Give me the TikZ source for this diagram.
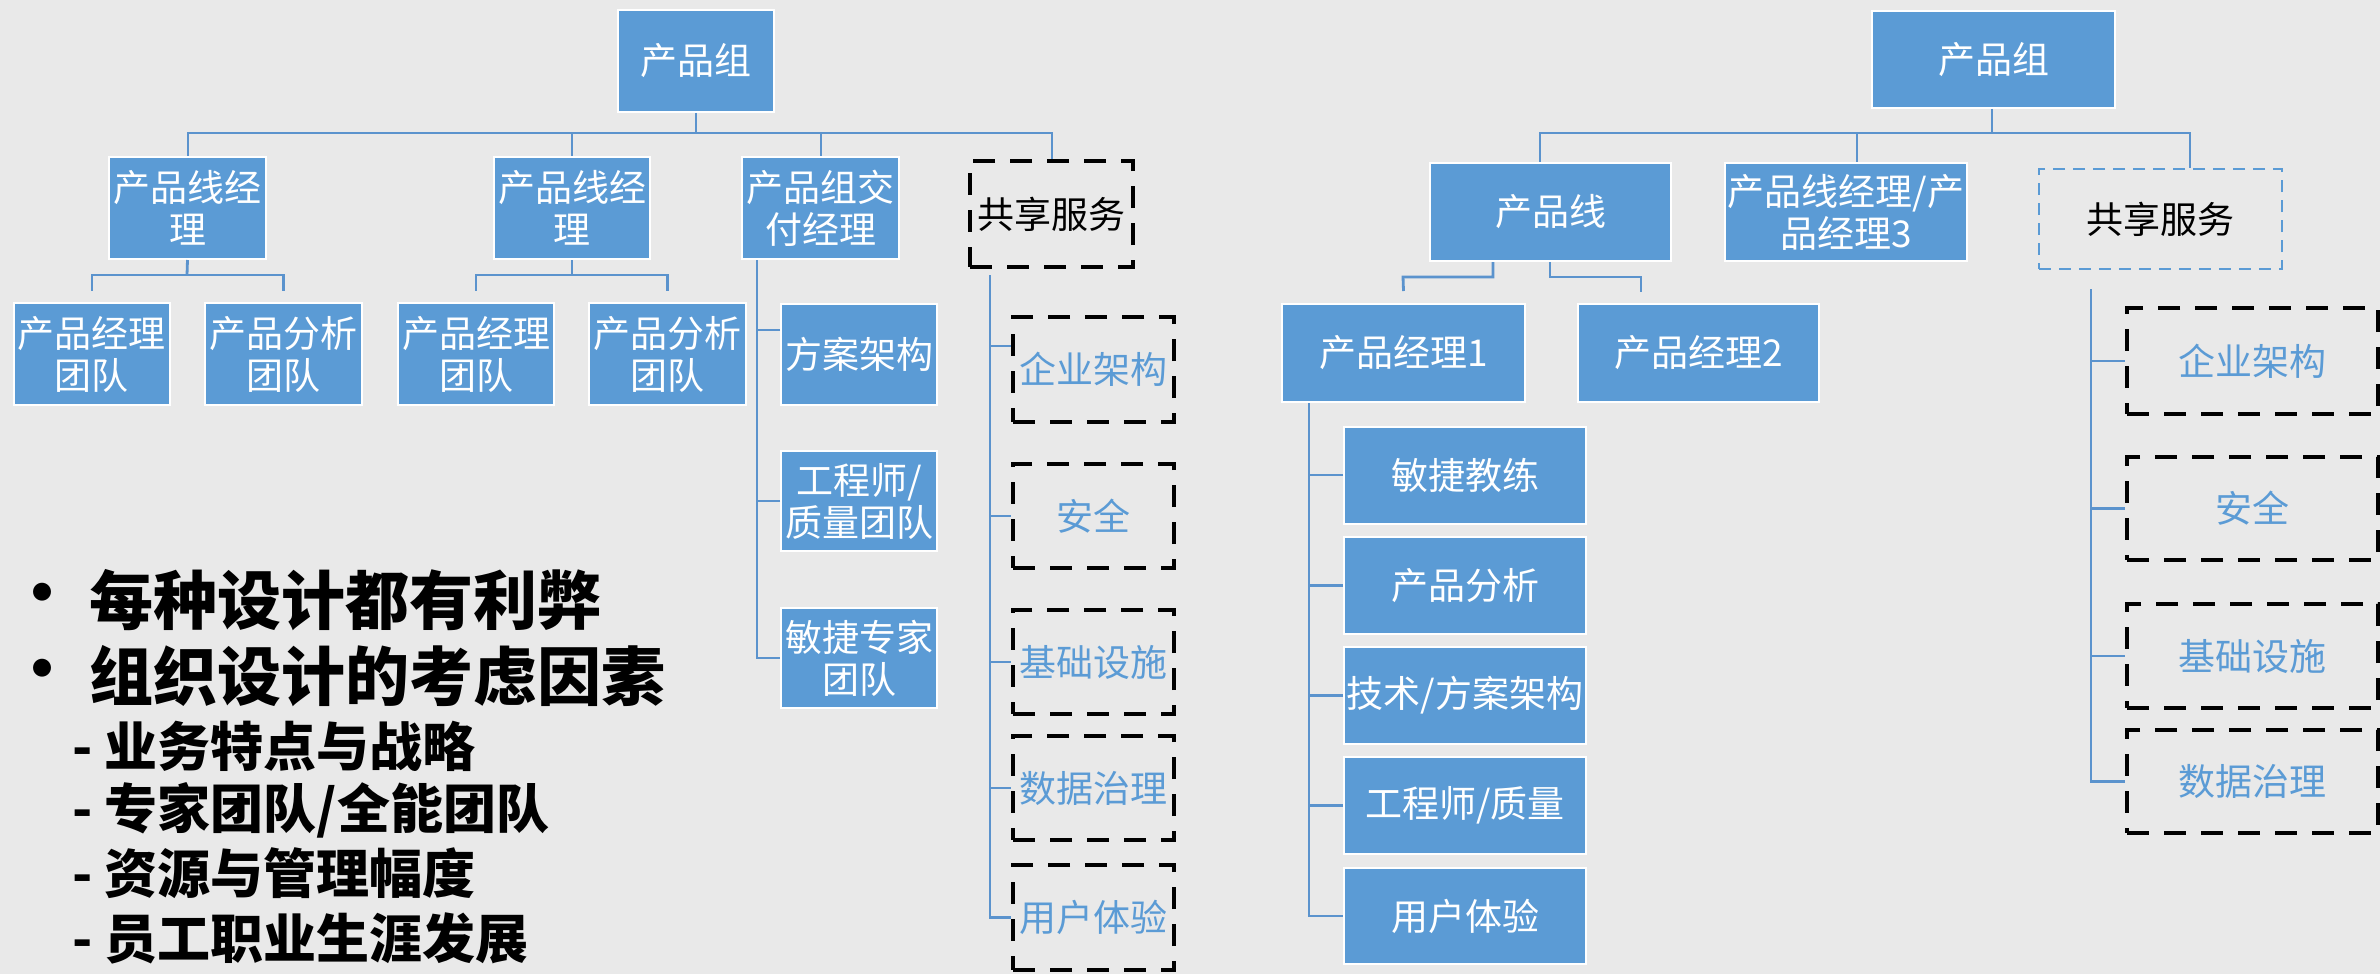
\documentclass[tikz,border=0pt]{standalone}
\usepackage{fontspec}
\setmainfont{Noto Sans CJK SC}
\newfontfamily\cjk{Noto Sans CJK SC}
\newfontfamily\cjkheavy{Noto Sans CJK SC Black}
\usetikzlibrary{calc}
\definecolor{boxblue}{HTML}{5B9BD5}
\definecolor{linkblue}{HTML}{5B93CD}
\definecolor{paper}{HTML}{E9E9E9}
\tikzset{
  bluebox/.style={rectangle, fill=boxblue, draw=white, line width=1pt, text=white, inner sep=0pt, align=center, font=\cjk\fontsize{18.5}{21}\selectfont},
  dashbox/.style={rectangle, draw=black, line width=2.3pt, dash pattern=on 11pt off 7.5pt, inner sep=0pt, align=center, font=\cjk\fontsize{18.5}{21}\selectfont},
  bluedash/.style={rectangle, draw=boxblue, line width=1pt, dash pattern=on 6pt off 4pt, inner sep=0pt, align=center, font=\cjk\fontsize{18.5}{21}\selectfont},
  link/.style={draw=linkblue, line width=1.4pt},
  toplink/.style={draw=linkblue, line width=1pt},
  bigbullet/.style={anchor=west, inner sep=0pt, font=\cjkheavy\fontsize{32}{36}\selectfont},
  smallbullet/.style={anchor=west, inner sep=0pt, font=\cjkheavy\fontsize{26.5}{30}\selectfont},
}
\begin{document}
\begin{tikzpicture}[x=0.5pt,y=-0.5pt]
\useasboundingbox (0,0) rectangle (2380,974);
\fill[paper] (0,0) rectangle (2380,974);

% ---------------- Left diagram ----------------
\node[bluebox, minimum width=78pt, minimum height=51pt] (L0) at (696,61) {产品组};
\node[bluebox, minimum width=78.5pt, minimum height=51pt] (L1a) at (187.5,208) {产品线经\\理};
\node[bluebox, minimum width=78pt, minimum height=51pt] (L1b) at (572,208) {产品线经\\理};
\node[bluebox, minimum width=78.5pt, minimum height=51pt] (L1c) at (820.5,208) {产品组交\\付经理};
\node[dashbox, minimum width=81.5pt, minimum height=53pt] (L1d) at (1051.5,214) {共享服务};

\node[bluebox, minimum width=78pt, minimum height=51pt] (a1) at (92,354) {产品经理\\团队};
\node[bluebox, minimum width=78.5pt, minimum height=51pt] (a2) at (283.5,354) {产品分析\\团队};
\node[bluebox, minimum width=78pt, minimum height=51pt] (b1) at (476,354) {产品经理\\团队};
\node[bluebox, minimum width=78.5pt, minimum height=51pt] (b2) at (667.5,354) {产品分析\\团队};

\node[bluebox, minimum width=78pt, minimum height=50.5pt] (c1) at (859,354.5) {方案架构};
\node[bluebox, minimum width=78pt, minimum height=50pt] (c2) at (859,501) {工程师/\\质量团队};
\node[bluebox, minimum width=78pt, minimum height=50pt] (c3) at (859,658) {敏捷专家\\团队};

\node[dashbox, text=boxblue, minimum width=80.5pt, minimum height=52.5pt] (s1) at (1093.5,369.5) {企业架构};
\node[dashbox, text=boxblue, minimum width=80.5pt, minimum height=52pt] (s2) at (1093.5,516) {安全};
\node[dashbox, text=boxblue, minimum width=80.5pt, minimum height=52pt] (s3) at (1093.5,662) {基础设施};
\node[dashbox, text=boxblue, minimum width=80.5pt, minimum height=52pt] (s4) at (1093.5,788) {数据治理};
\node[dashbox, text=boxblue, minimum width=80.5pt, minimum height=52.5pt] (s5) at (1093.5,917.5) {用户体验};

\coordinate (lbus) at (696,133);
\draw[toplink] (L0.south) -- (lbus);
\draw[toplink] (lbus) -| (L1a.north);
\draw[toplink] (lbus) -| (L1b.north);
\draw[toplink] (lbus) -| (L1c.north);
\draw[toplink] (lbus) -| (L1d.north);

\coordinate (ga) at (187,275);
\draw[link] (L1a.south) -- (ga);
\draw[link] (ga) -| ($(a1.north)+(0,-11)$);
\draw[link] (ga) -| ($(a2.north)+(0,-11)$);
\coordinate (gb) at (572,275);
\draw[link] (L1b.south) -- (gb);
\draw[link] (gb) -| ($(b1.north)+(0,-11)$);
\draw[link] (gb) -| ($(b2.north)+(0,-11)$);

\coordinate (dtop) at (L1c.south -| 757,0);
\draw[link] (dtop) |- (c3.west);
\draw[link] (c1.west |- 757,330) -- (757,330);
\draw[link] (c2.west) -- (c2.west -| 757,0);

\coordinate (stop) at (990,275);
\draw[link] (stop) |- (s5.west);
\draw[link] (s1.west |- 990,346) -- (990,346);
\draw[link] (s2.west) -- (s2.west -| 990,0);
\draw[link] (s3.west) -- (s3.west -| 990,0);
\draw[link] (s4.west) -- (s4.west -| 990,0);

% ---------------- Bullet text ----------------
\node[bigbullet] (bu1) at (10,600) {•};
\node[bigbullet] (t1) at (89,600) {每种设计都有利弊};
\node[bigbullet] (bu2) at (10,676) {•};
\node[bigbullet] (t2) at (89,676) {组织设计的考虑因素};
\node[smallbullet] (t3) at (72,746) {- 业务特点与战略};
\node[smallbullet] (t4) at (72,810) {- 专家团队/全能团队};
\node[smallbullet] (t5) at (72,873) {- 资源与管理幅度};
\node[smallbullet] (t6) at (72,938) {- 员工职业生涯发展};

% ---------------- Right diagram ----------------
\node[bluebox, minimum width=121.5pt, minimum height=48.5pt] (R0) at (1993.5,59.5) {产品组};
\node[bluebox, minimum width=120.5pt, minimum height=49pt] (R1a) at (1550.5,212) {产品线};
\node[bluebox, minimum width=121pt, minimum height=49pt] (R1b) at (1846,212) {产品线经理/产\\品经理3};
\node[bluedash, minimum width=121.5pt, minimum height=50pt] (R1c) at (2160.5,219) {共享服务};

\node[bluebox, minimum width=121.5pt, minimum height=49pt] (R2a) at (1403.5,353) {产品经理1};
\node[bluebox, minimum width=120.5pt, minimum height=49pt] (R2b) at (1698.5,353) {产品经理2};

\node[bluebox, minimum width=121pt, minimum height=48.5pt] (r1) at (1465,475) {敏捷教练};
\node[bluebox, minimum width=121pt, minimum height=48.5pt] (r2) at (1465,585.5) {产品分析};
\node[bluebox, minimum width=121pt, minimum height=48.5pt] (r3) at (1465,695.5) {技术/方案架构};
\node[bluebox, minimum width=121pt, minimum height=48.5pt] (r4) at (1465,805.5) {工程师/质量};
\node[bluebox, minimum width=121pt, minimum height=48pt] (r5) at (1465,916) {用户体验};

\node[dashbox, text=boxblue, minimum width=125.5pt, minimum height=53pt] (q1) at (2252.5,361) {企业架构};
\node[dashbox, text=boxblue, minimum width=125.5pt, minimum height=51.5pt] (q2) at (2252.5,508.5) {安全};
\node[dashbox, text=boxblue, minimum width=125.5pt, minimum height=52pt] (q3) at (2252.5,656) {基础设施};
\node[dashbox, text=boxblue, minimum width=125.5pt, minimum height=51.5pt] (q4) at (2252.5,781.5) {数据治理};

\coordinate (rbus) at (1992,133);
\draw[toplink] (R0.south -| rbus) -- (rbus);
\draw[toplink] (rbus) -| (R1a.north -| 1540,0);
\draw[toplink] (rbus) -| (R1b.north -| 1857,0);
\draw[toplink] (rbus) -| (R1c.north -| 2190,0);

\coordinate (pa) at (R1a.south -| 1493,0);
\coordinate (pb) at (R1a.south -| 1550,0);
\draw[link] (pa) |- (1403,277) -- ($(R2a.north)+(0,-12)$);
\draw[link] (pb) |- (1641,277) -- (1641,292);

\coordinate (ptop) at (R2a.south -| 1309,0);
\draw[link] (ptop) |- (r5.west);
\draw[link] (r1.west) -- (r1.west -| 1309,0);
\draw[link] (r2.west) -- (r2.west -| 1309,0);
\draw[link] (r3.west) -- (r3.west -| 1309,0);
\draw[link] (r4.west) -- (r4.west -| 1309,0);

\coordinate (qtop) at (2091,289);
\draw[link] (qtop) |- (q4.west);
\draw[link] (q1.west) -- (q1.west -| 2091,0);
\draw[link] (q2.west) -- (q2.west -| 2091,0);
\draw[link] (q3.west) -- (q3.west -| 2091,0);
\end{tikzpicture}
\end{document}
